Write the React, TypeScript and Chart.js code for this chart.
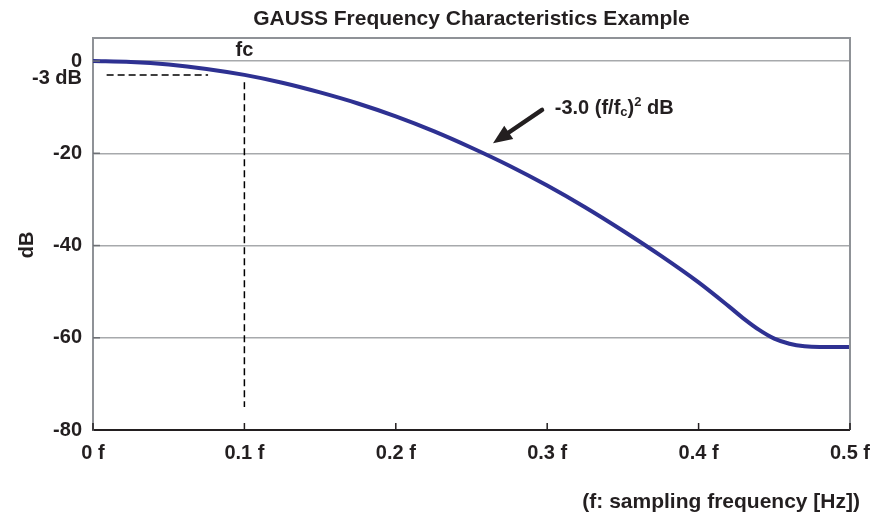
import React, { useEffect, useRef } from "react";
import { Chart, registerables } from "chart.js";

Chart.register(...registerables);

// ---- data ----
const freq = [0, 0.025, 0.05, 0.075, 0.1, 0.125, 0.15, 0.175, 0.2, 0.225, 0.25, 0.275, 0.3, 0.325, 0.35, 0.375, 0.4, 0.42, 0.43, 0.44, 0.45, 0.46, 0.47, 0.48, 0.5];
const gainDb = [0, -0.2, -0.75, -1.7, -3.0, -4.7, -6.8, -9.2, -12.0, -15.2, -18.8, -22.7, -27.0, -31.7, -36.8, -42.2, -48.0, -53.2, -55.9, -58.3, -60.2, -61.3, -61.85, -62.0, -62.0];

const xTickValues = [0, 0.1, 0.2, 0.3, 0.4, 0.5];
const xTickLabels = ["0 f", "0.1 f", "0.2 f", "0.3 f", "0.4 f", "0.5 f"];
const yTickValues = [0, -20, -40, -60, -80];
const yTickLabels = ["0", "-20", "-40", "-60", "-80"];

const titleText = "GAUSS Frequency Characteristics Example";
const yAxisTitle = "dB";
const xAxisTitle = "(f: sampling frequency [Hz])";
const cutoffFreq = 0.1;
const cutoffDb = -3;
const cutoffLabel = "fc";
const cutoffDbLabel = "-3 dB";

const FONT = '"Liberation Sans", Arial, Helvetica, sans-serif';
const LINE_COLOR = "#2e3192";
const FRAME_COLOR = "#8f9297";
const GRID_COLOR = "#a7a9ac";

const annotationPlugin = {
  id: "gaussAnnotations",
  afterDraw(chart: any) {
    const ctx = chart.ctx as CanvasRenderingContext2D;
    const x = chart.scales.x;
    const y = chart.scales.y;
    const area = chart.chartArea;
    ctx.save();

    // top and right frame
    ctx.strokeStyle = FRAME_COLOR;
    ctx.lineWidth = 2;
    ctx.beginPath();
    ctx.moveTo(area.left, area.top);
    ctx.lineTo(area.right, area.top);
    ctx.lineTo(area.right, area.bottom);
    ctx.stroke();

    // small inward ticks on the left axis
    ctx.strokeStyle = "#6d7075";
    ctx.lineWidth = 1.5;
    yTickValues.forEach((v) => {
      if (v === -80) return;
      const py = y.getPixelForValue(v);
      ctx.beginPath();
      ctx.moveTo(area.left, py);
      ctx.lineTo(area.left + 7, py);
      ctx.stroke();
    });

    // inward ticks on the bottom axis
    ctx.strokeStyle = "#231f20";
    ctx.lineWidth = 1.5;
    xTickValues.forEach((v) => {
      const px = x.getPixelForValue(v);
      ctx.beginPath();
      ctx.moveTo(px, area.bottom);
      ctx.lineTo(px, area.bottom - 7);
      ctx.stroke();
    });

    // dashed cutoff lines
    ctx.strokeStyle = "#000";
    ctx.lineWidth = 1.5;
    ctx.setLineDash([7, 4]);
    ctx.beginPath();
    ctx.moveTo(x.getPixelForValue(0.009), y.getPixelForValue(cutoffDb));
    ctx.lineTo(x.getPixelForValue(0.076), y.getPixelForValue(cutoffDb));
    ctx.moveTo(x.getPixelForValue(cutoffFreq), y.getPixelForValue(-4.6));
    ctx.lineTo(x.getPixelForValue(cutoffFreq), y.getPixelForValue(-75));
    ctx.stroke();
    ctx.setLineDash([]);

    ctx.fillStyle = "#231f20";

    // title
    ctx.font = `bold 21px ${FONT}`;
    ctx.textAlign = "center";
    ctx.textBaseline = "alphabetic";
    ctx.fillText(titleText, (area.left + area.right) / 2, 25);

    // x axis title
    ctx.textAlign = "right";
    ctx.fillText(xAxisTitle, 860, 508);

    // y axis title
    ctx.save();
    ctx.translate(27, 245);
    ctx.rotate(-Math.PI / 2);
    ctx.textAlign = "center";
    ctx.textBaseline = "middle";
    ctx.font = `bold 20px ${FONT}`;
    ctx.fillText(yAxisTitle, 0, 0);
    ctx.restore();

    // fc label
    ctx.font = `bold 20px ${FONT}`;
    ctx.textAlign = "center";
    ctx.textBaseline = "middle";
    ctx.fillText(cutoffLabel, x.getPixelForValue(cutoffFreq), y.getPixelForValue(2.3));

    // -3 dB label
    ctx.textAlign = "right";
    ctx.fillText(cutoffDbLabel, area.left - 11, y.getPixelForValue(-3.7));

    // arrow
    const tx = x.getPixelForValue(0.2966);
    const ty = y.getPixelForValue(-10.6);
    const hx = x.getPixelForValue(0.2642);
    const hy = y.getPixelForValue(-17.8);
    const ang = Math.atan2(hy - ty, hx - tx);
    const headLen = 19;
    const headW = 8;
    const bx = hx - headLen * Math.cos(ang);
    const by = hy - headLen * Math.sin(ang);
    ctx.strokeStyle = "#231f20";
    ctx.lineWidth = 4.5;
    ctx.lineCap = "round";
    ctx.beginPath();
    ctx.moveTo(tx, ty);
    ctx.lineTo(bx, by);
    ctx.stroke();
    ctx.lineCap = "butt";
    ctx.beginPath();
    ctx.moveTo(hx, hy);
    ctx.lineTo(bx + headW * Math.sin(ang), by - headW * Math.cos(ang));
    ctx.lineTo(bx - headW * Math.sin(ang), by + headW * Math.cos(ang));
    ctx.closePath();
    ctx.fill();

    // formula label: -3.0 (f/fc)^2 dB
    let cx = x.getPixelForValue(0.305);
    const baseY = y.getPixelForValue(-10.0) + 7;
    ctx.textAlign = "left";
    ctx.textBaseline = "alphabetic";
    const parts: Array<[string, number, number]> = [
      ["-3.0 (f/f", 20, 0],
      ["c", 13, 2],
      [")", 20, 0],
      ["2", 13, -8],
      [" dB", 20, 0],
    ];
    parts.forEach(([t, size, dy]) => {
      ctx.font = `bold ${size}px ${FONT}`;
      ctx.fillText(t, cx, baseY + dy);
      cx += ctx.measureText(t).width;
    });

    ctx.restore();
  },
};

export default function App() {
  const canvasRef = useRef<HTMLCanvasElement | null>(null);

  useEffect(() => {
    if (!canvasRef.current) return;
    const points = freq.map((f, i) => ({ x: f, y: gainDb[i] }));
    const chart = new Chart(canvasRef.current, {
      type: "line",
      data: {
        datasets: [
          {
            data: points,
            borderColor: LINE_COLOR,
            borderWidth: 4,
            pointRadius: 0,
            cubicInterpolationMode: "monotone",
            fill: false,
          },
        ],
      },
      options: {
        animation: false,
        responsive: false,
        devicePixelRatio: 1,
        layout: { padding: { left: 0, top: 38, right: 31, bottom: 0 } },
        plugins: {
          legend: { display: false },
          tooltip: { enabled: false },
          title: { display: false },
        },
        scales: {
          x: {
            type: "linear",
            min: 0,
            max: 0.5,
            afterBuildTicks: (s: any) => {
              s.ticks = xTickValues.map((v) => ({ value: v }));
            },
            afterFit: (s: any) => {
              s.height = 87;
            },
            grid: { display: false, drawTicks: false },
            border: { display: true, color: "#231f20", width: 2 },
            ticks: {
              padding: 11,
              color: "#231f20",
              font: { family: FONT, size: 20, weight: "bold" },
              maxRotation: 0,
              autoSkip: false,
              callback: (v: any) => xTickLabels[xTickValues.findIndex((t) => Math.abs(t - v) < 1e-9)],
            },
          },
          y: {
            type: "linear",
            min: -80,
            max: 5,
            afterBuildTicks: (s: any) => {
              s.ticks = yTickValues.map((v) => ({ value: v }));
            },
            afterFit: (s: any) => {
              s.width = 93;
            },
            grid: {
              drawTicks: false,
              lineWidth: 1.5,
              color: (c: any) => (c.tick && c.tick.value === -80 ? "rgba(0,0,0,0)" : GRID_COLOR),
            },
            border: { display: true, color: FRAME_COLOR, width: 2 },
            ticks: {
              padding: 11,
              color: "#231f20",
              font: { family: FONT, size: 20, weight: "bold" },
              autoSkip: false,
              callback: (v: any) => yTickLabels[yTickValues.indexOf(v)],
            },
          },
        },
      },
      plugins: [annotationPlugin],
    } as any);
    return () => chart.destroy();
  }, []);

  return (
    <div style={{ position: "fixed", left: 0, top: 0, width: 881, height: 517, background: "#fff" }}>
      <canvas ref={canvasRef} width={881} height={517} style={{ display: "block" }} />
    </div>
  );
}
